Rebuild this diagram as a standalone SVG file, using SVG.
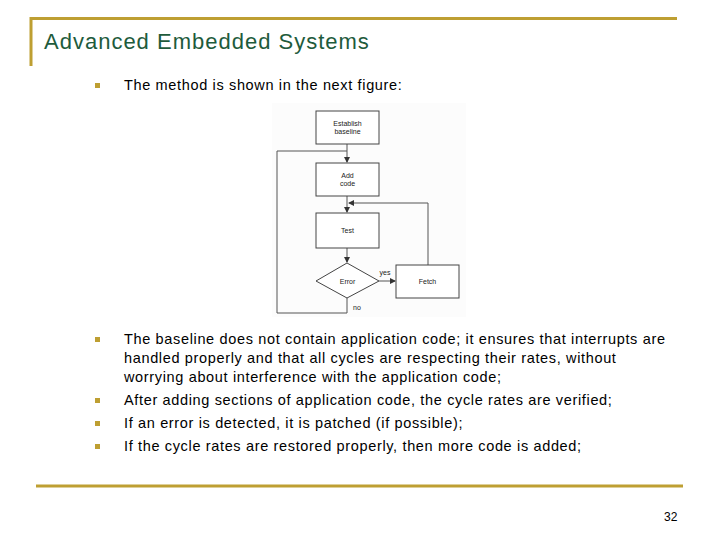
<svg xmlns="http://www.w3.org/2000/svg" width="720" height="540" viewBox="0 0 720 540">
<style>
.rule{stroke:#BE9F32;stroke-width:3;fill:none}
.title{font-family:"Liberation Sans",Arial,sans-serif;font-size:22px;letter-spacing:1px;fill:#1E5B3C}
.body{font-family:"Liberation Sans",Arial,sans-serif;font-size:14.5px;letter-spacing:0.65px;fill:#000}
.bul{fill:#BE9F32}
.box{fill:#fff;stroke:#444;stroke-width:1}
.lbl{font-family:"Liberation Sans",Arial,sans-serif;font-size:7px;fill:#222;text-anchor:middle}
.con{fill:none;stroke:#555;stroke-width:1}
.pg{font-family:"Liberation Sans",Arial,sans-serif;font-size:12px;fill:#000}
</style>
<defs>
<marker id="ah" markerWidth="6" markerHeight="6" refX="5" refY="3" orient="auto" markerUnits="userSpaceOnUse">
<path d="M0,0 L6,3 L0,6 z" fill="#333"/>
</marker>
</defs>
<rect width="720" height="540" fill="#fff"/>
<path class="rule" d="M31,66 V18.5 H677"/>
<text class="title" x="44" y="49">Advanced Embedded Systems</text>

<rect class="bul" x="95" y="83" width="5" height="5"/>
<text class="body" x="124" y="90">The method is shown in the next figure:</text>

<rect x="272" y="103" width="194" height="214" fill="#fcfcfc"/>

<g id="connectors">
<line class="con" x1="347" y1="144" x2="347" y2="162" marker-end="url(#ah)"/>
<line class="con" x1="347" y1="196" x2="347" y2="212" marker-end="url(#ah)"/>
<line class="con" x1="347" y1="248" x2="347" y2="262" marker-end="url(#ah)"/>
<line class="con" x1="379" y1="281" x2="395" y2="281" marker-end="url(#ah)"/>
<polyline class="con" points="428,265 428,203 349,203" marker-end="url(#ah)"/>
<polyline class="con" points="347,298 347,313 277,313 277,151 347,151"/>
<text class="lbl" x="385" y="275">yes</text>
<text class="lbl" x="357" y="310">no</text>
</g>
<g id="establish">
<rect class="box" x="316" y="111" width="63" height="33"/>
<text class="lbl" x="347.5" y="126">Establish</text>
<text class="lbl" x="347.5" y="134">baseline</text>
</g>
<g id="addcode">
<rect class="box" x="316" y="163" width="63" height="33"/>
<text class="lbl" x="347.5" y="178">Add</text>
<text class="lbl" x="347.5" y="186">code</text>
</g>
<g id="test">
<rect class="box" x="316" y="213" width="63" height="35"/>
<text class="lbl" x="347.5" y="233">Test</text>
</g>
<g id="error">
<polygon class="box" points="347,263 379,281 347,298 316,281"/>
<text class="lbl" x="347.5" y="284">Error</text>
</g>
<g id="fetch">
<rect class="box" x="396" y="265" width="63" height="33"/>
<text class="lbl" x="427.5" y="284">Fetch</text>
</g>

<rect class="bul" x="95" y="337" width="5" height="5"/>
<text class="body" x="124" y="344">The baseline does not contain application code; it ensures that interrupts are</text>
<text class="body" x="124" y="363">handled properly and that all cycles are respecting their rates, without</text>
<text class="body" x="124" y="382">worrying about interference with the application code;</text>
<rect class="bul" x="95" y="398" width="5" height="5"/>
<text class="body" x="124" y="405">After adding sections of application code, the cycle rates are verified;</text>
<rect class="bul" x="95" y="421" width="5" height="5"/>
<text class="body" x="124" y="428">If an error is detected, it is patched (if possible);</text>
<rect class="bul" x="95" y="444" width="5" height="5"/>
<text class="body" x="124" y="451">If the cycle rates are restored properly, then more code is added;</text>

<line class="rule" x1="36" y1="486" x2="683" y2="486"/>
<text class="pg" x="664" y="521">32</text>
</svg>
